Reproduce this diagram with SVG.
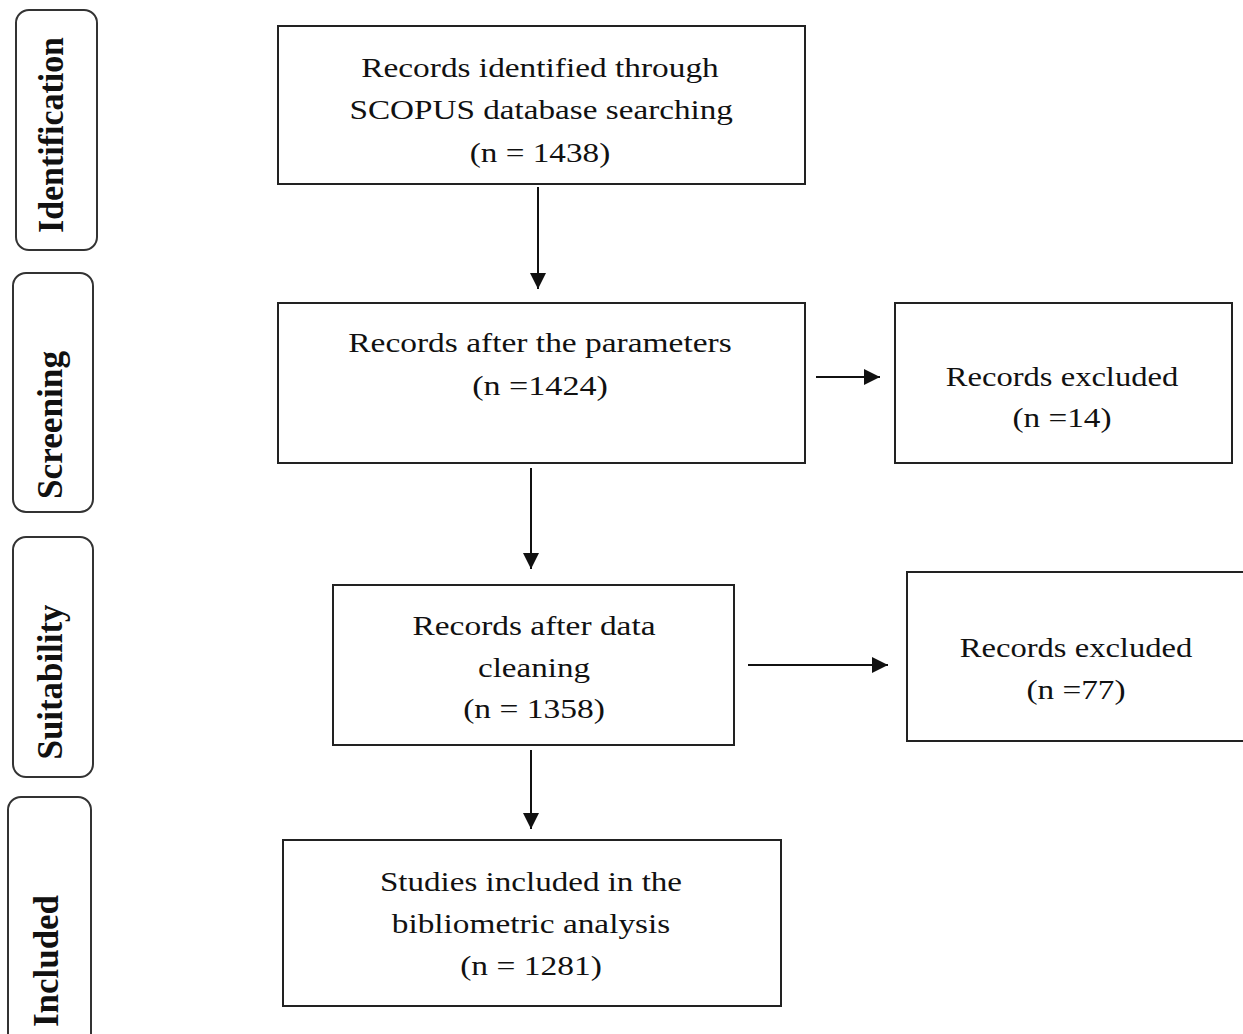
<svg xmlns="http://www.w3.org/2000/svg" width="1243" height="1034" viewBox="0 0 1243 1034">
<style>
.box{fill:#fff;stroke:#222;stroke-width:2}
.side{fill:#fff;stroke:#333;stroke-width:2}
.t{font-family:"Liberation Serif","Times New Roman",serif;font-size:28px;fill:#111;text-anchor:middle}
.s{font-family:"Liberation Serif","Times New Roman",serif;font-size:33px;font-weight:bold;fill:#111;text-anchor:middle}
.c{stroke:#111;stroke-width:2;fill:none}
</style>
<defs>
<marker id="ah" viewBox="0 0 16 16" refX="16" refY="8" markerWidth="16" markerHeight="16" markerUnits="userSpaceOnUse" orient="auto">
<path d="M0,0 L16,8 L0,16 Z" fill="#111"/>
</marker>
</defs>
<rect width="1243" height="1034" fill="#fff"/>
<g id="stage-identification">
<rect class="side" x="16" y="10" width="81" height="240" rx="13"/>
<text class="s" transform="translate(63,135) scale(1.1,1) rotate(-90)" textLength="196" lengthAdjust="spacingAndGlyphs">Identification</text>
</g>
<g id="stage-screening">
<rect class="side" x="13" y="273" width="80" height="239" rx="13"/>
<text class="s" transform="translate(62,425) scale(1.1,1) rotate(-90)" textLength="148" lengthAdjust="spacingAndGlyphs">Screening</text>
</g>
<g id="stage-suitability">
<rect class="side" x="13" y="537" width="80" height="240" rx="13"/>
<text class="s" transform="translate(62,682) scale(1.1,1) rotate(-90)" textLength="155" lengthAdjust="spacingAndGlyphs">Suitability</text>
</g>
<g id="stage-included">
<rect class="side" x="8" y="797" width="83" height="250" rx="13"/>
<text class="s" transform="translate(58,961) scale(1.1,1) rotate(-90)" textLength="132" lengthAdjust="spacingAndGlyphs">Included</text>
</g>
<g id="n-identified">
<rect class="box" x="278" y="26" width="527" height="158"/>
<g transform="translate(540,0) scale(1.18,1)">
<text class="t" x="0" y="77" textLength="303" lengthAdjust="spacingAndGlyphs">Records identified through</text>
<text class="t" x="1" y="119" textLength="325" lengthAdjust="spacingAndGlyphs">SCOPUS database searching</text>
<text class="t" x="0" y="162" textLength="119" lengthAdjust="spacingAndGlyphs">(n = 1438)</text>
</g>
</g>
<g id="n-screened">
<rect class="box" x="278" y="303" width="527" height="160"/>
<g transform="translate(540,0) scale(1.18,1)">
<text class="t" x="0" y="352" textLength="325" lengthAdjust="spacingAndGlyphs">Records after the parameters</text>
<text class="t" x="0" y="395" textLength="115" lengthAdjust="spacingAndGlyphs">(n =1424)</text>
</g>
</g>
<g id="n-excluded1">
<rect class="box" x="895" y="303" width="337" height="160"/>
<g transform="translate(1062,0) scale(1.18,1)">
<text class="t" x="0" y="386" textLength="197" lengthAdjust="spacingAndGlyphs">Records excluded</text>
<text class="t" x="0" y="427" textLength="84" lengthAdjust="spacingAndGlyphs">(n =14)</text>
</g>
</g>
<g id="n-cleaned">
<rect class="box" x="333" y="585" width="401" height="160"/>
<g transform="translate(534,0) scale(1.18,1)">
<text class="t" x="0" y="635" textLength="206" lengthAdjust="spacingAndGlyphs">Records after data</text>
<text class="t" x="0" y="677" textLength="95" lengthAdjust="spacingAndGlyphs">cleaning</text>
<text class="t" x="0" y="718" textLength="120" lengthAdjust="spacingAndGlyphs">(n = 1358)</text>
</g>
</g>
<g id="n-excluded2">
<rect class="box" x="907" y="572" width="340" height="169"/>
<g transform="translate(1076,0) scale(1.18,1)">
<text class="t" x="0" y="657" textLength="197" lengthAdjust="spacingAndGlyphs">Records excluded</text>
<text class="t" x="0" y="699" textLength="84" lengthAdjust="spacingAndGlyphs">(n =77)</text>
</g>
</g>
<g id="n-included">
<rect class="box" x="283" y="840" width="498" height="166"/>
<g transform="translate(531,0) scale(1.18,1)">
<text class="t" x="0" y="891" textLength="256" lengthAdjust="spacingAndGlyphs">Studies included in the</text>
<text class="t" x="0" y="933" textLength="236" lengthAdjust="spacingAndGlyphs">bibliometric analysis</text>
<text class="t" x="0" y="975" textLength="120" lengthAdjust="spacingAndGlyphs">(n = 1281)</text>
</g>
</g>
<g id="connectors">
<line class="c" x1="538" y1="187" x2="538" y2="289" marker-end="url(#ah)"/>
<line class="c" x1="816" y1="377" x2="880" y2="377" marker-end="url(#ah)"/>
<line class="c" x1="531" y1="468" x2="531" y2="569" marker-end="url(#ah)"/>
<line class="c" x1="748" y1="665" x2="888" y2="665" marker-end="url(#ah)"/>
<line class="c" x1="531" y1="750" x2="531" y2="829" marker-end="url(#ah)"/>
</g>
</svg>
